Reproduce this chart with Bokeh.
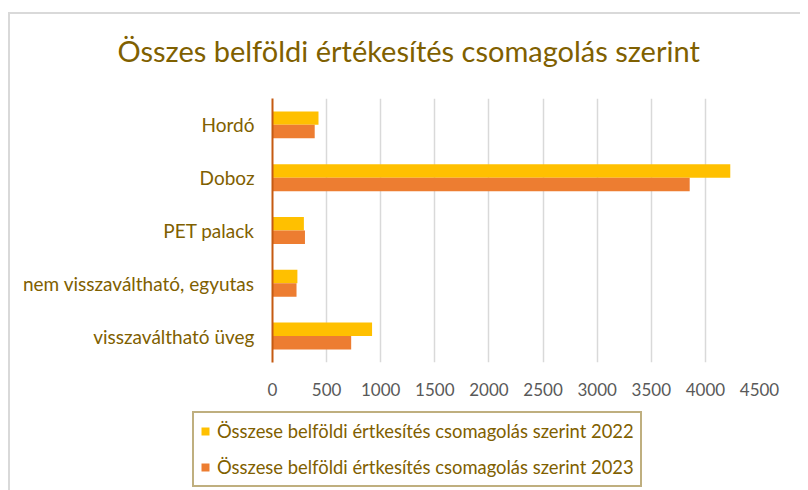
import numpy as np
from bokeh.plotting import figure
from bokeh.layouts import column
from bokeh.models import FactorRange, Range1d, Legend, LegendItem, Title, FixedTicker
from bokeh.transform import dodge
from bokeh.models import ColumnDataSource
from bokeh.embed import file_html
from bokeh.resources import INLINE

categories = ["Hordó", "Doboz", "PET palack", "nem visszaváltható, egyutas", "visszaváltható üveg"]
values_2022 = [425, 4230, 290, 230, 920]
values_2023 = [390, 3855, 300, 222, 727]
series_names = ["Összese belföldi értkesítés csomagolás szerint 2022",
                "Összese belföldi értkesítés csomagolás szerint 2023"]
series_colors = ["#FFC000", "#ED7D31"]
x_ticks = [0, 500, 1000, 1500, 2000, 2500, 3000, 3500, 4000, 4500]
title_text = "Összes belföldi értékesítés csomagolás szerint"

TEXT = "#7F6000"
FONT = "Lato"
GRAY = "#D9D9D9"

src = ColumnDataSource(dict(cat=categories, v22=values_2022, v23=values_2023))

p = figure(width=800, height=405, output_backend="svg", toolbar_location=None,
           y_range=FactorRange(*reversed(categories), range_padding=0, factor_padding=0),
           x_range=Range1d(0, 4500),
           min_border_left=272, min_border_right=41, min_border_top=97, min_border_bottom=43)
p.frame_align = False
p.outline_line_color = None
p.background_fill_color = "white"
p.border_fill_color = None
p.styles = {
    "background-color": "white",
    "background-image": f"linear-gradient({GRAY},{GRAY}), linear-gradient({GRAY},{GRAY})",
    "background-size": "2px 100%, 100% 2px",
    "background-position": "8px 12px, 8px 12px",
    "background-repeat": "no-repeat",
}

r22 = p.hbar(y=dodge("cat", 0.128, range=p.y_range), right="v22", left=0, height=0.255,
             source=src, fill_color=series_colors[0], line_color=None)
r23 = p.hbar(y=dodge("cat", -0.127, range=p.y_range), right="v23", left=0, height=0.255,
             source=src, fill_color=series_colors[1], line_color=None)

p.ygrid.grid_line_color = None
p.xgrid.grid_line_color = GRAY
p.xgrid.grid_line_width = 1.5
p.xaxis.ticker = FixedTicker(ticks=x_ticks)
p.xaxis.axis_line_color = None
p.xaxis.major_tick_line_color = None
p.xaxis.major_tick_out = 0
p.xaxis.minor_tick_line_color = None
p.xaxis.minor_tick_out = 0
p.xaxis.major_label_text_color = "#595959"
p.xaxis.major_label_text_font = FONT
p.xaxis.major_label_text_font_size = "17px"
p.xaxis.major_label_standoff = 20

p.yaxis.axis_line_color = "#C55A11"
p.yaxis.axis_line_width = 2
p.yaxis.major_tick_line_color = None
p.yaxis.major_tick_out = 0
p.yaxis.minor_tick_line_color = None
p.yaxis.major_label_text_color = TEXT
p.yaxis.major_label_text_font = FONT
p.yaxis.major_label_text_font_size = "19px"
p.yaxis.major_label_standoff = 18

p.title = Title(text=title_text, align="left", offset=-155, standoff=61,
                text_font=FONT, text_font_size="29px", text_font_style="normal",
                text_color=TEXT)

# legend panel below the chart
lg = figure(width=800, height=85, output_backend="svg", toolbar_location=None,
            x_axis_type=None, y_axis_type=None, min_border=0,
            x_range=Range1d(0, 1), y_range=Range1d(0, 1))
lg.frame_align = False
lg.outline_line_color = None
lg.xgrid.grid_line_color = None
lg.ygrid.grid_line_color = None
lg.background_fill_color = None
lg.border_fill_color = None
lg.styles = {
    "background-color": "white",
    "background-image": f"linear-gradient({GRAY},{GRAY})",
    "background-size": "2px 100%",
    "background-position": "8px 0px",
    "background-repeat": "no-repeat",
}
# legend-only renderers (no visible marks)
key_src = ColumnDataSource(dict(y=np.array([np.nan]), right=np.array([np.nan])))
k22 = lg.hbar(y="y", right="right", height=0.1, source=key_src, fill_color=series_colors[0], line_color=None)
k23 = lg.hbar(y="y", right="right", height=0.1, source=key_src, fill_color=series_colors[1], line_color=None)

legend = Legend(items=[LegendItem(label=series_names[0], renderers=[k22]),
                       LegendItem(label=series_names[1], renderers=[k23])],
                location=(192, 3), orientation="vertical",
                border_line_color=TEXT, border_line_width=2.5, background_fill_alpha=1,
                padding=6, spacing=12, glyph_width=10, glyph_height=10, label_height=24,
                label_standoff=7, label_text_font=FONT, label_text_font_size="18.4px",
                label_text_color=TEXT, margin=0)
lg.add_layout(legend, "center")

open("out.html", "w").write(file_html(column(p, lg, spacing=0), INLINE))
